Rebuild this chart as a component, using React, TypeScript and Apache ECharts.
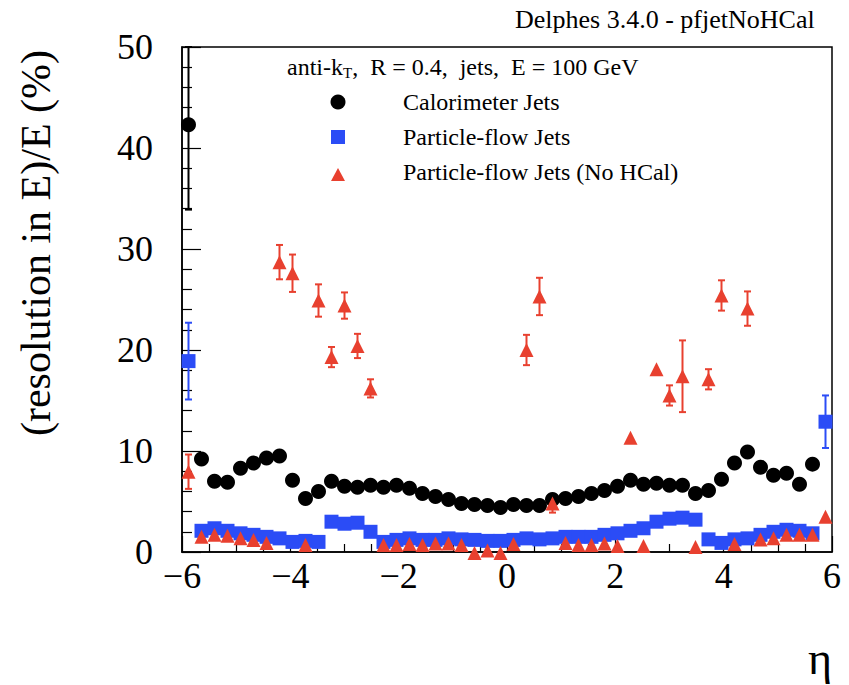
import React, { useEffect, useRef } from "react";
import * as echarts from "echarts";

// bin centres in eta
const etaBins = [
  -5.88, -5.64, -5.4, -5.16, -4.92, -4.68, -4.44, -4.2, -3.96, -3.72,
  -3.48, -3.24, -3.0, -2.76, -2.52, -2.28, -2.04, -1.8, -1.56, -1.32,
  -1.08, -0.84, -0.6, -0.36, -0.12, 0.12, 0.36, 0.6, 0.84, 1.08,
  1.32, 1.56, 1.8, 2.04, 2.28, 2.52, 2.76, 3.0, 3.24, 3.48,
  3.72, 3.96, 4.2, 4.44, 4.68, 4.92, 5.16, 5.4, 5.64, 5.88,
];

// Calorimeter jets
const caloRes = [
  42.3, 9.2, 7.0, 6.9, 8.3, 8.8, 9.3, 9.5, 7.1, 5.3,
  6.0, 7.0, 6.5, 6.4, 6.6, 6.4, 6.6, 6.3, 5.8, 5.5,
  5.2, 4.8, 4.7, 4.6, 4.4, 4.7, 4.6, 4.6, 5.2, 5.3,
  5.5, 5.8, 6.1, 6.5, 7.1, 6.7, 6.8, 6.6, 6.6, 5.8,
  6.1, 7.2, 8.8, 9.9, 8.4, 7.6, 7.8, 6.7, 8.7, null,
];
const caloErr = [
  8.4, 0, 0, 0, 0, 0, 0, 0, 0, 0,
  0, 0, 0, 0, 0, 0, 0, 0, 0, 0,
  0, 0, 0, 0, 0, 0, 0, 0, 0, 0,
  0, 0, 0, 0, 0, 0, 0, 0, 0, 0,
  0, 0, 0, 0, 0, 0, 0, 0, 0, 0,
];

// Particle-flow jets
const pfRes = [
  18.9, 2.1, 2.35, 2.1, 1.85, 1.7, 1.5, 1.35, 1.0, 1.1,
  1.0, 3.0, 2.8, 2.9, 2.0, 1.0, 1.2, 1.35, 1.2, 1.2,
  1.35, 1.25, 1.2, 1.1, 1.1, 1.2, 1.35, 1.25, 1.35, 1.5,
  1.5, 1.5, 1.7, 1.85, 2.1, 2.35, 3.0, 3.3, 3.4, 3.2,
  1.25, 0.9, 1.25, 1.35, 1.7, 2.0, 2.2, 2.1, 1.85, 12.9,
];
const pfErr = [
  3.8, 0, 0, 0, 0, 0, 0, 0, 0, 0,
  0, 0, 0, 0, 0, 0, 0, 0, 0, 0,
  0, 0, 0, 0, 0, 0, 0, 0, 0, 0,
  0, 0, 0, 0, 0, 0, 0, 0, 0, 0,
  0, 0, 0, 0, 0, 0, 0, 0, 0, 2.6,
];

// Particle-flow jets (No HCal)
const noHcalRes = [
  7.95, 1.5, 1.7, 1.6, 1.35, 1.2, 0.9, 28.7, 27.6, 0.7,
  24.9, 19.3, 24.4, 20.4, 16.2, 0.7, 0.7, 0.8, 0.7, 0.85,
  0.85, 0.7, -0.1, 0.15, -0.1, 0.8, 20.0, 25.3, 4.8, 0.9,
  0.7, 0.7, 0.85, 0.6, 11.3, 0.6, 18.1, 15.5, 17.4, 0.5,
  17.1, 25.4, 0.8, 24.1, 1.25, 1.35, 1.7, 1.7, 1.7, 3.5,
];
const noHcalErr = [
  1.7, 0, 0, 0, 0, 0, 0, 1.7, 1.85, 0,
  1.6, 1.0, 1.3, 1.2, 0.9, 0, 0, 0, 0, 0,
  0, 0, 0, 0, 0, 0, 1.5, 1.85, 0.9, 0,
  0, 0, 0, 0, 0, 0, 0, 1.0, 3.55, 0,
  1.0, 1.5, 0, 1.7, 0, 0, 0, 0, 0, 0,
];

const seriesNames = [
  "Calorimeter Jets",
  "Particle-flow Jets",
  "Particle-flow Jets (No HCal)",
];
const xTicks = { min: -6, max: 6, interval: 2 };
const yTicks = { min: 0, max: 50, interval: 10 };

const BLACK = "#000000";
const BLUE = "#2b4cf6";
const RED = "#e8402f";
const FONT = "'Liberation Serif', 'Times New Roman', serif";

function points(vals: (number | null)[]) {
  const out: number[][] = [];
  vals.forEach((v, i) => {
    if (v !== null) out.push([etaBins[i], v]);
  });
  return out;
}
function errPoints(vals: (number | null)[], errs: number[]) {
  const out: number[][] = [];
  vals.forEach((v, i) => {
    if (v !== null && errs[i] > 0) out.push([etaBins[i], v, errs[i]]);
  });
  return out;
}

function errorSeries(vals: (number | null)[], errs: number[], color: string) {
  return {
    type: "custom",
    silent: true,
    z: 2,
    data: errPoints(vals, errs),
    renderItem: (params: any, api: any) => {
      const x = api.value(0);
      const y = api.value(1);
      const e = api.value(2);
      const hi = Math.min(y + e, yTicks.max);
      const lo = Math.max(y - e, yTicks.min);
      const p1 = api.coord([x, hi]);
      const p2 = api.coord([x, lo]);
      const hw = 3.5;
      const st = { stroke: color, lineWidth: 2 };
      return {
        type: "group",
        children: [
          { type: "line", shape: { x1: p1[0], y1: p1[1], x2: p2[0], y2: p2[1] }, style: st },
          { type: "line", shape: { x1: p1[0] - hw, y1: p1[1], x2: p1[0] + hw, y2: p1[1] }, style: st },
          { type: "line", shape: { x1: p2[0] - hw, y1: p2[1], x2: p2[0] + hw, y2: p2[1] }, style: st },
        ],
      };
    },
  };
}

export default function App() {
  const ref = useRef<HTMLDivElement>(null);
  useEffect(() => {
    document.body.style.margin = "0";
    if (!ref.current) return;
    const chart = echarts.init(ref.current, null, { renderer: "svg" });
    const legendX = 338;
    const textX = 403;
    const rows = [102, 137, 172];
    chart.setOption({
      animation: false,
      backgroundColor: "#ffffff",
      grid: {
        left: 182,
        right: 17,
        top: 47,
        bottom: 133,
        show: true,
        borderColor: "#000",
        borderWidth: 1.5,
        backgroundColor: "transparent",
      },
      xAxis: {
        type: "value",
        min: xTicks.min,
        max: xTicks.max,
        interval: xTicks.interval,
        axisLine: { show: true, onZero: false, lineStyle: { color: "#000", width: 1.5 } },
        axisTick: { show: true, inside: true, length: 16, lineStyle: { color: "#000", width: 1.2 } },
        minorTick: { show: true, splitNumber: 4, length: 8, lineStyle: { color: "#000", width: 1.2 } },
        splitLine: { show: false },
        minorSplitLine: { show: false },
        axisLabel: {
          color: "#000",
          fontFamily: FONT,
          fontSize: 36,
          margin: 6,
          formatter: (v: number) => (v < 0 ? "\u2212" + Math.abs(v) : String(v)),
        },
      },
      yAxis: {
        type: "value",
        min: yTicks.min,
        max: yTicks.max,
        interval: yTicks.interval,
        axisLine: { show: true, onZero: false, lineStyle: { color: "#000", width: 1.5 } },
        axisTick: { show: true, inside: true, length: 19, lineStyle: { color: "#000", width: 1.2 } },
        minorTick: { show: true, splitNumber: 5, length: 10, lineStyle: { color: "#000", width: 1.2 } },
        splitLine: { show: false },
        minorSplitLine: { show: false },
        axisLabel: {
          color: "#000",
          fontFamily: FONT,
          fontSize: 36,
          margin: 29,
        },
      },
      graphic: [
        {
          type: "text",
          left: 515,
          top: 6,
          style: { text: "Delphes 3.4.0 - pfjetNoHCal", font: `26px ${FONT}`, fill: "#000" },
        },
        {
          type: "text",
          x: 36,
          y: 243,
          rotation: Math.PI / 2,
          style: {
            text: "(resolution in E)/E (%)",
            font: `42px ${FONT}`,
            fill: "#000",
            align: "center",
            verticalAlign: "middle",
          },
        },
        {
          type: "text",
          x: 820,
          y: 658,
          style: {
            text: "\u03B7",
            font: `46px ${FONT}`,
            fill: "#000",
            align: "center",
            verticalAlign: "middle",
          },
        },
        {
          type: "text",
          x: 287,
          y: 67,
          style: {
            text: "anti-k{sub|T},  R = 0.4,  jets,  E = 100 GeV",
            font: `24px ${FONT}`,
            fill: "#000",
            verticalAlign: "middle",
            rich: {
              sub: { font: `15px ${FONT}`, fill: "#000", padding: [12, 0, 0, 0] },
            },
          },
        },
        { type: "circle", shape: { cx: legendX, cy: rows[0], r: 7.5 }, style: { fill: BLACK } },
        { type: "rect", shape: { x: legendX - 7, y: rows[1] - 7, width: 14, height: 14 }, style: { fill: BLUE } },
        {
          type: "polygon",
          shape: { points: [[legendX, rows[2] - 4], [legendX - 7, rows[2] + 9], [legendX + 7, rows[2] + 9]] },
          style: { fill: RED },
        },
        ...seriesNames.map((name, i) => ({
          type: "text",
          x: textX,
          y: rows[i],
          style: { text: name, font: `24px ${FONT}`, fill: "#000", verticalAlign: "middle" },
        })),
      ],
      series: [
        errorSeries(caloRes, caloErr, BLACK),
        errorSeries(pfRes, pfErr, BLUE),
        errorSeries(noHcalRes, noHcalErr, RED),
        {
          name: seriesNames[0],
          type: "scatter",
          z: 3,
          clip: false,
          symbol: "circle",
          symbolSize: 15,
          itemStyle: { color: BLACK, opacity: 1 },
          data: points(caloRes),
        },
        {
          name: seriesNames[1],
          type: "scatter",
          z: 3,
          clip: false,
          symbol: "rect",
          symbolSize: 14,
          itemStyle: { color: BLUE, opacity: 1 },
          data: points(pfRes),
        },
        {
          name: seriesNames[2],
          type: "scatter",
          z: 4,
          clip: false,
          symbol: "triangle",
          symbolSize: 14,
          itemStyle: { color: RED, opacity: 1 },
          data: points(noHcalRes),
        },
      ],
    });
    return () => chart.dispose();
  }, []);
  return <div ref={ref} style={{ width: 849, height: 685 }} />;
}
